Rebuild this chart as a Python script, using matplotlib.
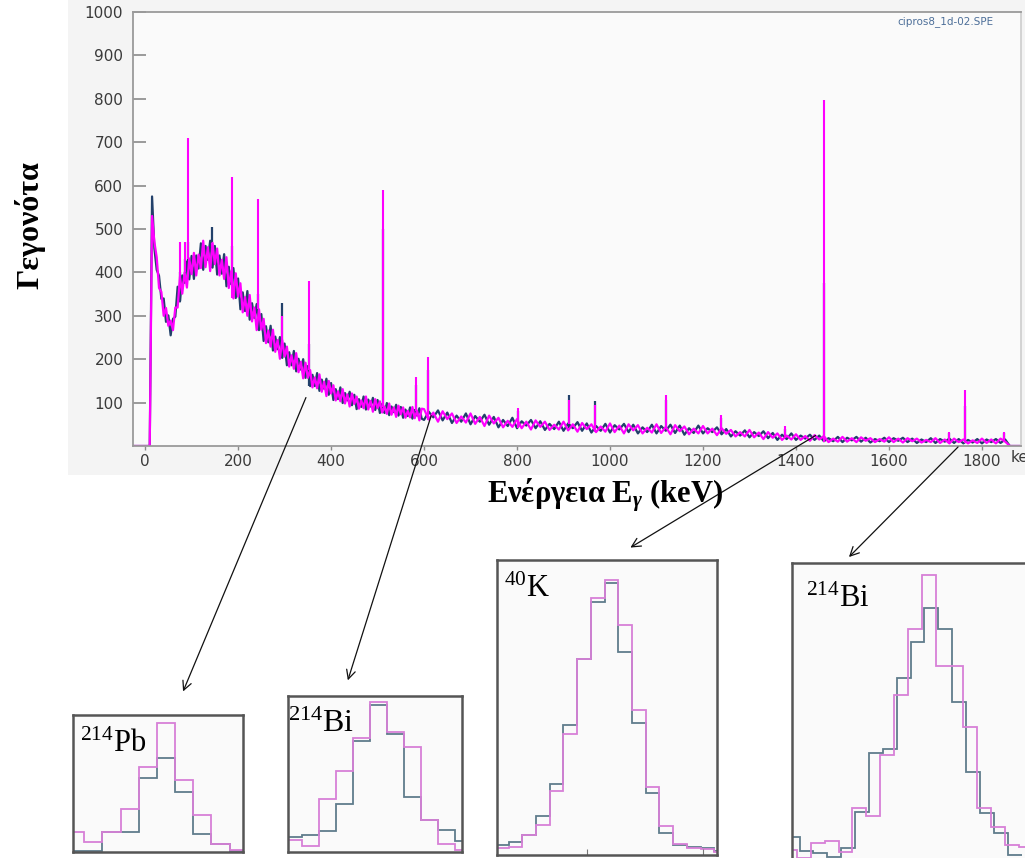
import numpy as np
import matplotlib.pyplot as plt
from matplotlib.patches import Rectangle

plt.rcParams['mathtext.fontset'] = 'custom'
plt.rcParams['mathtext.rm'] = 'Liberation Serif'
plt.rcParams['mathtext.it'] = 'Liberation Serif:italic'
plt.rcParams['mathtext.bf'] = 'Liberation Serif:bold'
plt.rcParams['mathtext.bfit'] = 'Liberation Serif:bold:italic'

# spectrum, 5 keV steps from -25 to 595 keV
mag_lo = [0, 0, 0, 0, 0, 0, 0, 0, 530, 470,
          435, 364, 355, 300, 318, 277, 289, 267, 319, 319,
          390, 351, 400, 365, 432, 396, 445, 393, 441, 410,
          473, 412, 458, 403, 468, 419, 455, 393, 429, 385,
          435, 364, 402, 340, 398, 344, 375, 308, 343, 300,
          348, 287, 319, 267, 315, 268, 293, 237, 266, 229,
          268, 217, 244, 201, 244, 206, 229, 183, 209, 178,
          214, 170, 194, 156, 192, 157, 175, 135, 158, 133,
          165, 125, 148, 115, 150, 121, 140, 105, 126, 103,
          131, 98, 119, 91, 121, 97, 114, 86, 105, 87,
          114, 84, 104, 79, 108, 87, 103, 77, 91, 74,
          98, 72, 89, 67, 93, 73, 89, 65, 81, 66,
          90, 64, 81, 59, 86]
blue_lo = [0, 0, 0, 0, 0, 0, 0, 0, 575, 455,
           406, 392, 339, 340, 286, 301, 255, 293, 298, 367,
           333, 393, 376, 425, 384, 438, 385, 439, 409, 467,
           406, 461, 429, 473, 411, 461, 395, 439, 397, 442,
           368, 413, 373, 410, 341, 386, 315, 354, 311, 357,
           291, 329, 295, 327, 267, 304, 242, 276, 239, 277,
           220, 252, 223, 251, 203, 236, 186, 216, 186, 219,
           172, 201, 176, 200, 157, 184, 138, 164, 138, 168,
           127, 153, 132, 155, 118, 145, 106, 131, 108, 135,
           99, 122, 105, 125, 94, 118, 85, 108, 90, 114,
           84, 107, 91, 111, 83, 106, 76, 97, 76, 99,
           71, 91, 78, 95, 70, 90, 65, 84, 69, 89,
           63, 83, 70, 87, 63]

# spectrum, 10 keV steps from 600 to 1890 keV
mag_hi = [85, 61, 77, 56, 80, 62, 75, 53, 68, 54,
          75, 51, 67, 46, 70, 52, 65, 43, 58, 44,
          62, 41, 56, 38, 59, 44, 56, 37, 49, 38,
          56, 36, 50, 33, 53, 39, 50, 32, 45, 33,
          52, 32, 47, 29, 50, 36, 48, 29, 42, 31,
          50, 30, 44, 27, 48, 34, 45, 27, 40, 29,
          46, 29, 40, 25, 41, 28, 37, 22, 32, 22,
          37, 20, 31, 16, 32, 19, 29, 14, 24, 15,
          27, 14, 23, 12, 25, 15, 23, 9, 17, 10,
          21, 10, 18, 9, 20, 12, 18, 9, 16, 10,
          20, 9, 17, 8, 18, 11, 17, 8, 14, 9,
          18, 7, 15, 6, 17, 9, 15, 6, 13, 7,
          17, 7, 15, 6, 17, 10, 0, 0, 0, 0]
blue_hi = [60, 79, 66, 82, 59, 77, 53, 70, 56, 75,
           50, 69, 56, 72, 49, 67, 43, 60, 46, 65,
           41, 57, 47, 60, 41, 57, 37, 51, 39, 56,
           35, 52, 41, 55, 35, 52, 31, 46, 35, 51,
           31, 48, 38, 51, 32, 49, 29, 43, 32, 49,
           29, 46, 35, 49, 30, 47, 26, 41, 30, 47,
           29, 41, 32, 43, 27, 39, 22, 34, 24, 36,
           20, 32, 23, 34, 18, 30, 14, 26, 16, 29,
           14, 24, 17, 26, 14, 24, 11, 18, 11, 21,
           9, 19, 13, 21, 10, 19, 8, 16, 11, 19,
           9, 18, 12, 19, 9, 17, 7, 15, 9, 18,
           7, 16, 10, 17, 7, 16, 6, 14, 8, 16,
           6, 15, 9, 16, 7, 15, 0, 0, 0, 0]

# photopeaks
peak_keV = [75, 85, 93, 144, 186, 242, 295, 352, 511, 583, 609, 802, 911,
            968, 1120, 1238, 1376, 1461, 1730, 1764, 1847]
peak_mag = [470, 470, 710, 455, 620, 570, 300, 380, 590, 160, 205, 88, 105,
            95, 118, 72, 45, 797, 33, 128, 33]
peak_blue = [400, 430, 470, 505, 460, 350, 330, 235, 500, 140, 175, 80, 118,
             104, 105, 65, 40, 375, 30, 92, 30]

# zoomed peaks (counts per channel)
pb_mag = [60, 30, 60, 130, 253, 385, 215, 112, 25, 5]
pb_blue = [3, 3, 60, 60, 220, 280, 180, 53, 23, 3]
bi609_mag = [35, 17, 160, 243, 343, 450, 360, 315, 95, 23, 5]
bi609_blue = [45, 50, 62, 143, 332, 440, 355, 165, 95, 65, 32]
k40_mag = [22, 25, 60, 90, 193, 363, 588, 772, 825, 690, 435, 205, 87, 32, 22, 17, 10]
k40_blue = [30, 39, 60, 117, 213, 390, 588, 760, 817, 610, 395, 185, 65, 30, 25, 20, 12]
bi1764_mag = [30, 5, 50, 57, 25, 155, 132, 315, 497, 695, 855, 582, 582, 400, 155, 100, 45, 40]
bi1764_blue = [70, 27, 20, 10, 35, 145, 322, 332, 548, 655, 757, 693, 475, 265, 140, 82, 15]

energy = np.concatenate([np.arange(-25, 600, 5), np.arange(600, 1900, 10)])
mag = np.array(mag_lo + mag_hi)
blue = np.array(blue_lo + blue_hi)
idx = np.searchsorted(energy, peak_keV)

W, H = 1025, 858
fig = plt.figure(figsize=(W / 100, H / 100), dpi=100)


def px_axes(l, t, r, b):
    return fig.add_axes([l / W, 1 - b / H, (r - l) / W, (b - t) / H])


fig.patches.append(Rectangle((68 / W, 1 - 475 / H), 1 - 68 / W, 475 / H,
                             transform=fig.transFigure, facecolor='#f4f4f4',
                             edgecolor='none', zorder=-1))

MAG = '#ff00ff'
NAVY = '#22406a'

ax = px_axes(133, 12, 1021, 446)
ax.set_facecolor('#fafafa')
ax.plot(energy, blue, color=NAVY, lw=1.6)
ax.vlines(peak_keV, blue[idx], peak_blue, color=NAVY, lw=1.6)
ax.plot(energy, mag, color=MAG, lw=1.6)
ax.vlines(peak_keV, mag[idx], peak_mag, color=MAG, lw=1.5)
ax.set_xlim(-26, 1884)
ax.set_ylim(0, 1000)
ax.set_xticks(range(0, 1801, 200))
ax.set_yticks(range(100, 1001, 100))
ax.tick_params(axis='y', direction='in', length=9, width=1.2, color='#8a8a8a',
               labelsize=11, labelcolor='#3a3a3a', pad=7)
ax.tick_params(axis='x', direction='out', length=3, width=1, color='#8a8a8a',
               labelsize=11, labelcolor='#3a3a3a', pad=3)
for s in ax.spines.values():
    s.set_color('#9a9a9a')
    s.set_linewidth(1.3)
ax.spines['right'].set_color('#d0d0d0')

fig.text(1011 / W, 1 - 457 / H, 'keV', fontsize=11, color='#3a3a3a',
         ha='left', va='center')
fig.text(945 / W, 1 - 22 / H, 'cipros8_1d-02.SPE', fontsize=7.5,
         color='#4d6f99', ha='center', va='center')
fig.text(30 / W, 1 - 225 / H, 'Γεγονότα', rotation=90, ha='center', va='center',
         fontfamily='Liberation Serif', fontweight='bold', fontsize=23)
fig.text(605 / W, 1 - 495 / H, 'Ενέργεια E$_{\\mathbfit{\\gamma}}$ (keV)',
         ha='center', va='center', fontfamily='Liberation Serif',
         fontweight='bold', fontsize=22)

# arrows from the spectrum down to the zoomed peaks
arrows = [((307, 395), (182, 694)), ((432, 413), (347, 683)),
          ((818, 434), (628, 549)), ((960, 445), (847, 559))]
for (x0, y0), (x1, y1) in arrows:
    ax.annotate('', xy=(x1, H - y1), xytext=(x0, H - y0),
                xycoords='figure pixels', textcoords='figure pixels',
                arrowprops=dict(arrowstyle='->', color='#111111', lw=0.9,
                                mutation_scale=16),
                annotation_clip=False)


def inset(box, m, b, m0, b0, xlim, ytop, label, lab_xy, fs):
    a = px_axes(*box)
    a.set_facecolor('#fafafa')
    a.stairs(b, np.arange(len(b) + 1) + b0, baseline=None, color='#5f7c8c', lw=1.3)
    a.stairs(m, np.arange(len(m) + 1) + m0, baseline=None, color='#d780d7', lw=1.3)
    a.set_xlim(*xlim)
    a.set_ylim(0, ytop)
    a.set_xticks([])
    a.set_yticks([])
    for s in a.spines.values():
        s.set_color('#555555')
        s.set_linewidth(1.8)
    fig.text(lab_xy[0] / W, 1 - lab_xy[1] / H, label, fontsize=fs,
             fontfamily='Liberation Serif', va='baseline', ha='left')
    return a


inset((73, 715, 243, 852), pb_mag, pb_blue, 0, 0, (0.38, 9.74), 410,
      '$^{214}$Pb', (80, 752), 22)
inset((288, 696, 462, 852), bi609_mag, bi609_blue, 0, 0, (0.16, 10.43), 468,
      '$^{214}$Bi', (288, 732), 23)
k = inset((497, 560, 717, 855), k40_mag, k40_blue, 0, 0, (0.15, 16.2), 885,
          '$^{40}$K', (504, 597), 22)
k.set_xticks([6.68, 15.2])
k.set_xticklabels([])
k.tick_params(axis='x', direction='in', length=4, color='#777777')
inset((792, 563, 1030, 860), bi1764_mag, bi1764_blue, -1, -0.81, (-0.36, 16.8), 892,
      '$^{214}$Bi', (806, 607), 22)

fig.savefig('out.png', dpi=100)
